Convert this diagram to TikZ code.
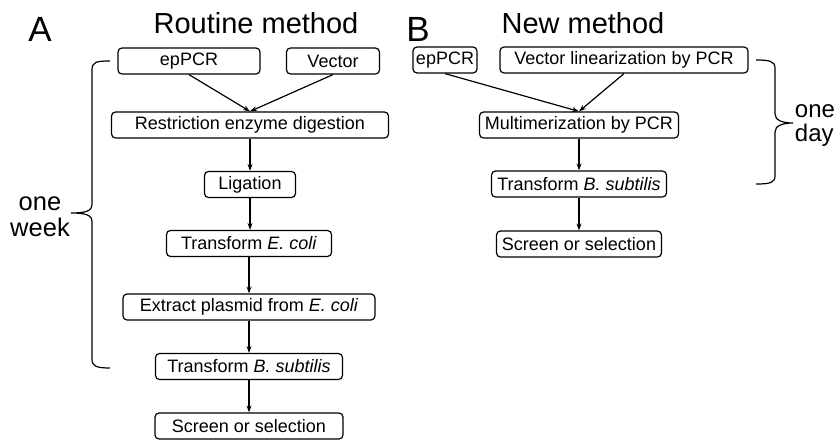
\documentclass[tikz,border=0pt]{standalone}
\usepackage{fontspec}
\setmainfont{Liberation Sans}
\usetikzlibrary{arrows.meta}

\begin{document}
\begin{tikzpicture}[x=1pt, y=-1pt, line width=1.2pt,
	stepbox/.style={draw, rounded corners=4pt, minimum height=26pt, inner sep=0pt, font=\fontsize{18}{18}\selectfont},
	arr/.style={-{Stealth[length=7pt,width=5pt]}},
	panel/.style={anchor=base, font=\fontsize{35}{35}\selectfont},
	title/.style={anchor=base, font=\fontsize{29}{29}\selectfont},
	span/.style={align=center, font=\fontsize{25.5}{26}\selectfont}]
\useasboundingbox (0,0) rectangle (838,440);
\node[panel] (A) at (40,41) {A};
\node[title] (tA) at (256,33) {Routine method};
\node[panel] (B) at (418,41) {B};
\node[title] (tB) at (583,33) {New method};

\node[stepbox, minimum width=142pt] (epa) at (189,61) {epPCR};
\node[stepbox, minimum width=93pt] (veca) at (333,61) {Vector};
\node[stepbox, minimum width=277pt] (red) at (250,125) {Restriction enzyme digestion};
\node[stepbox, minimum width=91pt] (lig) at (250,184.5) {Ligation};
\node[stepbox, minimum width=165pt] (tec) at (249,243.5) {Transform \textit{E. coli}};
\node[stepbox, minimum width=252pt] (ext) at (249,307) {Extract plasmid from \textit{E. coli}};
\node[stepbox, minimum width=187pt] (tba) at (249,366.5) {Transform \textit{B. subtilis}};
\node[stepbox, minimum width=188pt] (sca) at (249,426) {Screen or selection};

\node[stepbox, minimum width=64pt] (epb) at (445,60) {epPCR};
\node[stepbox, minimum width=248pt] (vecb) at (624,60) {Vector linearization by PCR};
\node[stepbox, minimum width=199pt] (mul) at (579,125) {Multimerization by PCR};
\node[stepbox, minimum width=175pt] (tbb) at (579,184) {Transform \textit{B. subtilis}};
\node[stepbox, minimum width=165pt] (scb) at (579,244) {Screen or selection};

\draw[arr] (epa.south) -- (red.north);
\draw[arr] (veca.south) -- (red.north);
\draw[arr] (red.south) -- (red.south |- lig.north);
\draw[arr] (lig.south) -- (lig.south |- tec.north);
\draw[arr] (tec.south) -- (tec.south |- ext.north);
\draw[arr] (ext.south) -- (ext.south |- tba.north);
\draw[arr] (tba.south) -- (tba.south |- sca.north);

\draw[arr] (epb.south) -- (mul.north);
\draw[arr] (vecb.south) -- (mul.north);
\draw[arr] (mul.south) -- (mul.south |- tbb.north);
\draw[arr] (tbb.south) -- (tbb.south |- scb.north);

\draw (110,61) .. controls (96,61) and (92,62) .. (92,70) -- (92,204)
	.. controls (92,211) and (86,213) .. (71,213)
	.. controls (86,213) and (92,215) .. (92,222) -- (92,359)
	.. controls (92,366) and (96,368) .. (110,368);
\node[span] (wk) at (40,217) {one\\week};

\draw (756,60) .. controls (769,60) and (775,61) .. (775,68) -- (775,114)
	.. controls (775,120) and (782,123) .. (793,123)
	.. controls (782,123) and (775,126) .. (775,132) -- (775,176)
	.. controls (775,183) and (769,184) .. (756,184);
\node[span, anchor=west, align=left, font=\fontsize{24}{24}\selectfont] (dy) at (791,126) {one\\day};
\end{tikzpicture}
\end{document}
